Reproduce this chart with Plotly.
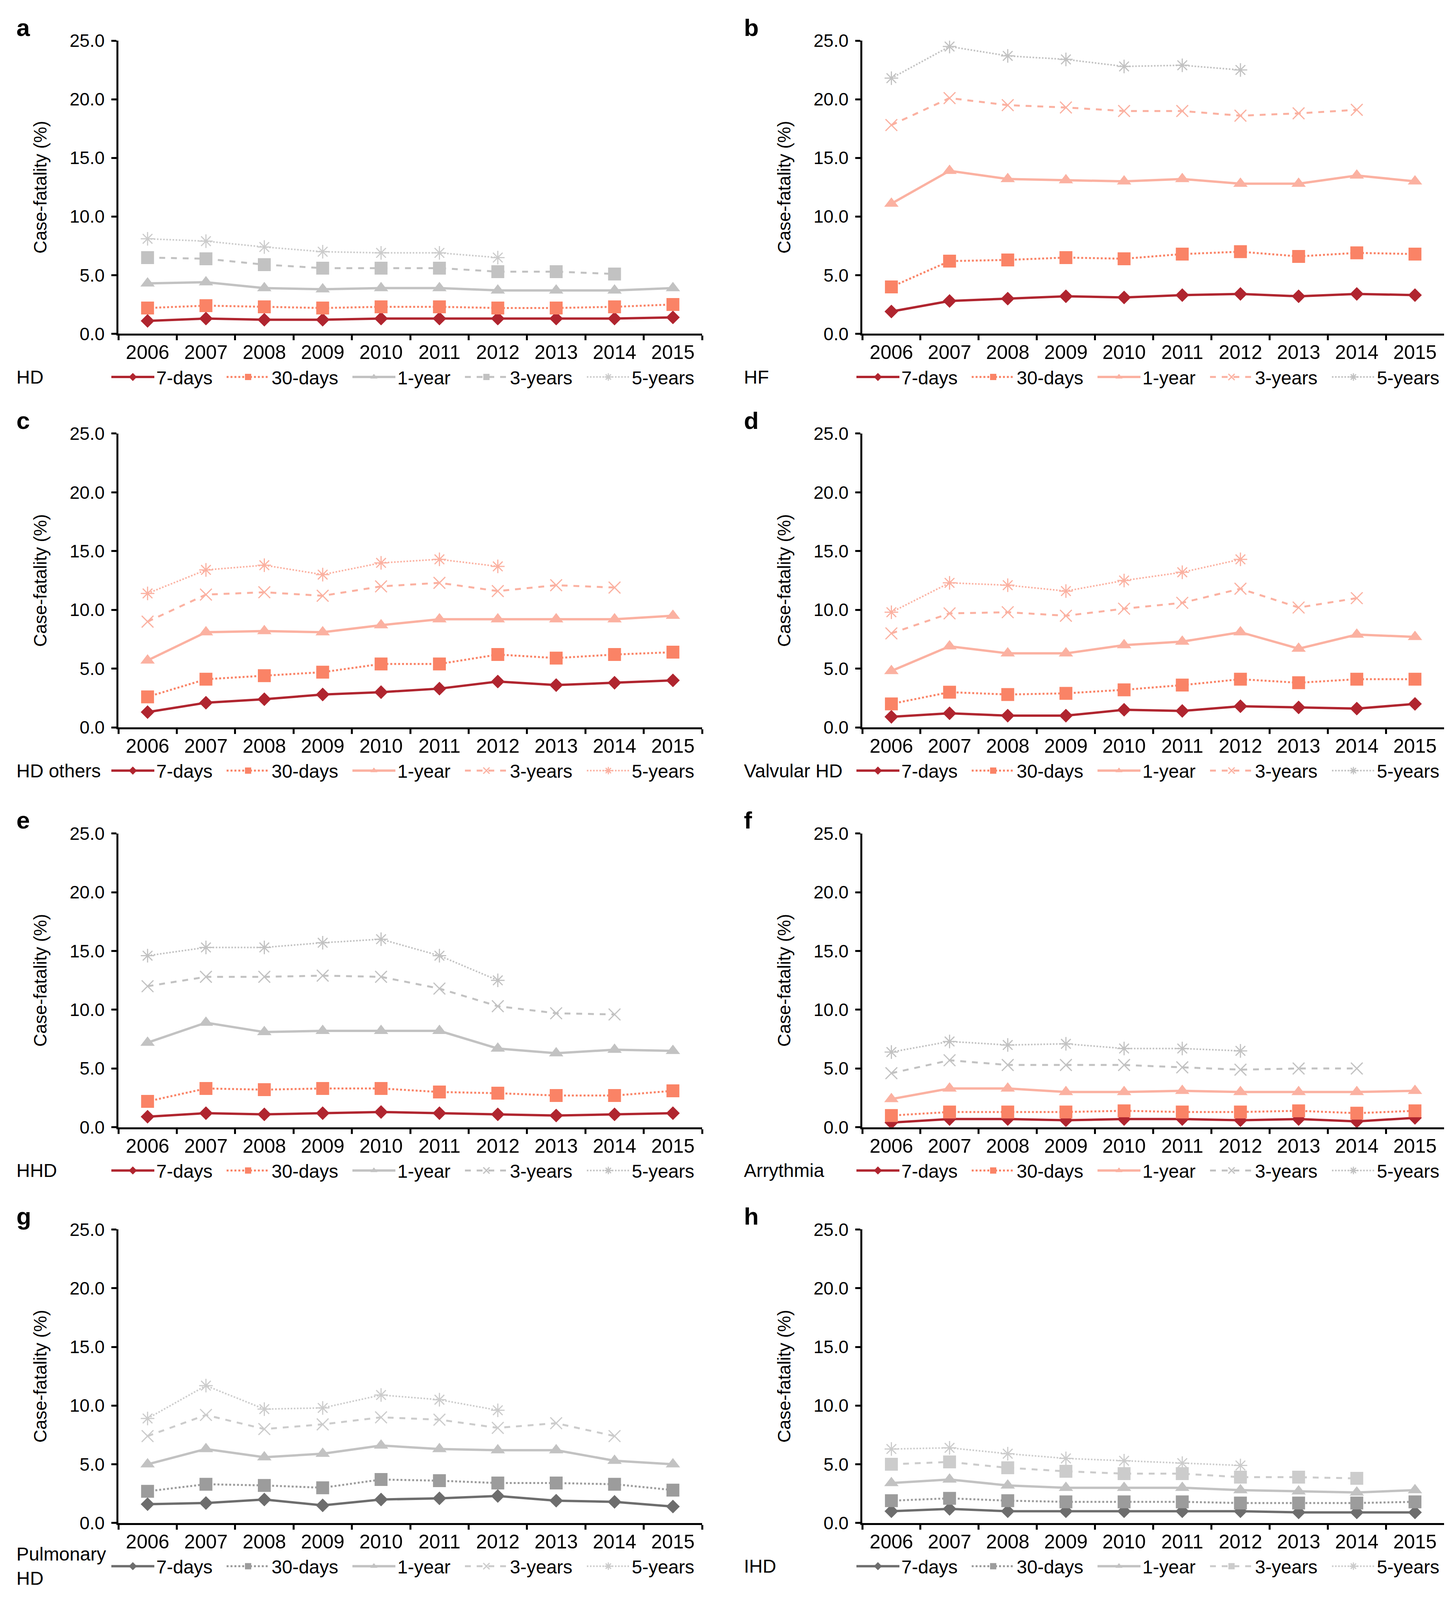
import plotly.graph_objects as go

# ---------------- data ----------------
years = ["2006", "2007", "2008", "2009", "2010", "2011", "2012", "2013", "2014", "2015"]
series_names = ["7-days", "30-days", "1-year", "3-years", "5-years"]
panel_letters = ["a", "b", "c", "d", "e", "f", "g", "h"]
panel_names = ["HD", "HF", "HD others", "Valvular HD", "HHD", "Arrythmia", "Pulmonary<br>HD", "IHD"]
y_ticks = [0, 5, 10, 15, 20, 25]

# a: HD
hd_7d = [1.1, 1.3, 1.2, 1.2, 1.3, 1.3, 1.3, 1.3, 1.3, 1.4]
hd_30d = [2.2, 2.4, 2.3, 2.2, 2.3, 2.3, 2.2, 2.2, 2.3, 2.5]
hd_1y = [4.3, 4.4, 3.9, 3.8, 3.9, 3.9, 3.7, 3.7, 3.7, 3.9]
hd_3y = [6.5, 6.4, 5.9, 5.6, 5.6, 5.6, 5.3, 5.3, 5.1]
hd_5y = [8.1, 7.9, 7.4, 7.0, 6.9, 6.9, 6.5]
# b: HF
hf_7d = [1.9, 2.8, 3.0, 3.2, 3.1, 3.3, 3.4, 3.2, 3.4, 3.3]
hf_30d = [4.0, 6.2, 6.3, 6.5, 6.4, 6.8, 7.0, 6.6, 6.9, 6.8]
hf_1y = [11.1, 13.9, 13.2, 13.1, 13.0, 13.2, 12.8, 12.8, 13.5, 13.0]
hf_3y = [17.8, 20.1, 19.5, 19.3, 19.0, 19.0, 18.6, 18.8, 19.1]
hf_5y = [21.8, 24.5, 23.7, 23.4, 22.8, 22.9, 22.5]
# c: HD others
hdo_7d = [1.3, 2.1, 2.4, 2.8, 3.0, 3.3, 3.9, 3.6, 3.8, 4.0]
hdo_30d = [2.6, 4.1, 4.4, 4.7, 5.4, 5.4, 6.2, 5.9, 6.2, 6.4]
hdo_1y = [5.7, 8.1, 8.2, 8.1, 8.7, 9.2, 9.2, 9.2, 9.2, 9.5]
hdo_3y = [9.0, 11.3, 11.5, 11.2, 12.0, 12.3, 11.6, 12.1, 11.9]
hdo_5y = [11.4, 13.4, 13.8, 13.0, 14.0, 14.3, 13.7]
# d: Valvular HD
vhd_7d = [0.9, 1.2, 1.0, 1.0, 1.5, 1.4, 1.8, 1.7, 1.6, 2.0]
vhd_30d = [2.0, 3.0, 2.8, 2.9, 3.2, 3.6, 4.1, 3.8, 4.1, 4.1]
vhd_1y = [4.8, 6.9, 6.3, 6.3, 7.0, 7.3, 8.1, 6.7, 7.9, 7.7]
vhd_3y = [8.0, 9.7, 9.8, 9.5, 10.1, 10.6, 11.8, 10.2, 11.0]
vhd_5y = [9.8, 12.3, 12.1, 11.6, 12.5, 13.2, 14.3]
# e: HHD
hhd_7d = [0.9, 1.2, 1.1, 1.2, 1.3, 1.2, 1.1, 1.0, 1.1, 1.2]
hhd_30d = [2.2, 3.3, 3.2, 3.3, 3.3, 3.0, 2.9, 2.7, 2.7, 3.1]
hhd_1y = [7.2, 8.9, 8.1, 8.2, 8.2, 8.2, 6.7, 6.3, 6.6, 6.5]
hhd_3y = [12.0, 12.8, 12.8, 12.9, 12.8, 11.8, 10.3, 9.7, 9.6]
hhd_5y = [14.6, 15.3, 15.3, 15.7, 16.0, 14.6, 12.5]
# f: Arrythmia
arr_7d = [0.4, 0.7, 0.7, 0.6, 0.7, 0.7, 0.6, 0.7, 0.5, 0.8]
arr_30d = [1.0, 1.3, 1.3, 1.3, 1.4, 1.3, 1.3, 1.4, 1.2, 1.4]
arr_1y = [2.4, 3.3, 3.3, 3.0, 3.0, 3.1, 3.0, 3.0, 3.0, 3.1]
arr_3y = [4.6, 5.7, 5.3, 5.3, 5.3, 5.1, 4.9, 5.0, 5.0]
arr_5y = [6.4, 7.3, 7.0, 7.1, 6.7, 6.7, 6.5]
# g: Pulmonary HD
phd_7d = [1.6, 1.7, 2.0, 1.5, 2.0, 2.1, 2.3, 1.9, 1.8, 1.4]
phd_30d = [2.7, 3.3, 3.2, 3.0, 3.7, 3.6, 3.4, 3.4, 3.3, 2.8]
phd_1y = [5.0, 6.3, 5.6, 5.9, 6.6, 6.3, 6.2, 6.2, 5.3, 5.0]
phd_3y = [7.4, 9.2, 8.0, 8.4, 9.0, 8.8, 8.1, 8.5, 7.4]
phd_5y = [8.9, 11.7, 9.7, 9.8, 10.9, 10.5, 9.6]
# h: IHD
ihd_7d = [1.0, 1.2, 1.0, 1.0, 1.0, 1.0, 1.0, 0.9, 0.9, 0.9]
ihd_30d = [1.9, 2.1, 1.9, 1.8, 1.8, 1.8, 1.7, 1.7, 1.7, 1.8]
ihd_1y = [3.4, 3.7, 3.2, 3.0, 3.0, 3.0, 2.8, 2.7, 2.6, 2.8]
ihd_3y = [5.0, 5.2, 4.7, 4.4, 4.2, 4.2, 3.9, 3.9, 3.8]
ihd_5y = [6.3, 6.4, 5.9, 5.5, 5.3, 5.1, 4.9]

panel_data = [
    [hd_7d, hd_30d, hd_1y, hd_3y, hd_5y],
    [hf_7d, hf_30d, hf_1y, hf_3y, hf_5y],
    [hdo_7d, hdo_30d, hdo_1y, hdo_3y, hdo_5y],
    [vhd_7d, vhd_30d, vhd_1y, vhd_3y, vhd_5y],
    [hhd_7d, hhd_30d, hhd_1y, hhd_3y, hhd_5y],
    [arr_7d, arr_30d, arr_1y, arr_3y, arr_5y],
    [phd_7d, phd_30d, phd_1y, phd_3y, phd_5y],
    [ihd_7d, ihd_30d, ihd_1y, ihd_3y, ihd_5y],
]

# ---------------- styles ----------------
RED = "#B0252F"
SALMON = "#FA8366"
LSALMON = "#FBB1A1"
GREY = "#C2C2C2"
LGREY = "#CCCCCC"
DGREY = "#6D6D6D"
MGREY = "#9C9C9C"

panel_colors = [
    [RED, SALMON, GREY, GREY, LGREY],
    [RED, SALMON, LSALMON, LSALMON, GREY],
    [RED, SALMON, LSALMON, LSALMON, LSALMON],
    [RED, SALMON, LSALMON, LSALMON, LSALMON],
    [RED, SALMON, GREY, GREY, GREY],
    [RED, SALMON, LSALMON, GREY, GREY],
    [DGREY, MGREY, GREY, LGREY, LGREY],
    [DGREY, MGREY, GREY, LGREY, LGREY],
]
# legend colour differs from the plotted colour in panel d (5-years)
legend_override = {(3, 4): GREY}

SYM_X = "x-thin-open"
SYM_AST = "asterisk-open"
panel_symbols = [
    ["diamond", "square", "triangle-up", "square", SYM_AST],
    ["diamond", "square", "triangle-up", SYM_X, SYM_AST],
    ["diamond", "square", "triangle-up", SYM_X, SYM_AST],
    ["diamond", "square", "triangle-up", SYM_X, SYM_AST],
    ["diamond", "square", "triangle-up", SYM_X, SYM_AST],
    ["diamond", "square", "triangle-up", SYM_X, SYM_AST],
    ["diamond", "square", "triangle-up", SYM_X, SYM_AST],
    ["diamond", "square", "triangle-up", "square", SYM_AST],
]
series_dash = ["solid", "dot", "solid", "dash", "dot"]
series_width = [6, 5, 6, 5, 4]
legend_entry_width = [170, 197, 163, 187, 170]
symbol_size = {"diamond": 27, "square": 33, "triangle-up": 32, SYM_X: 30, SYM_AST: 29}

# reference geometry (pixels of the 3724 x 4559 reference), converted to fractions
RW, RH = 3724, 4559
FONT = "Liberation Sans, Arial, Helvetica, sans-serif"

col_x = [(303, 1797), (2207, 3696)]
row_y = [(88, 934), (1222, 2070), (2376, 3224), (3519, 4366)]
col_left = [40, 1902]
legend_start = [280, 2187]

fig = go.Figure()
layout = dict(
    autosize=True, margin=dict(l=0, r=0, t=0, b=0, pad=0),
    paper_bgcolor="white", plot_bgcolor="white",
    font=dict(family=FONT, size=46, color="black"),
    annotations=[], showlegend=True,
)


def make_marker(sym, color):
    open_sym = sym.endswith("-open")
    return dict(
        symbol=sym, size=symbol_size[sym], color=color,
        line=dict(width=3 if open_sym else 0, color=color),
    )


for p in range(8):
    r, c = divmod(p, 2)
    n = p + 1
    xa = "x" if n == 1 else f"x{n}"
    ya = "y" if n == 1 else f"y{n}"
    lg = "legend" if n == 1 else f"legend{n}"
    x0, x1 = col_x[c]
    y0, y1 = row_y[r]

    for s in range(5):
        vals = panel_data[p][s]
        col = panel_colors[p][s]
        sym = panel_symbols[p][s]
        override = legend_override.get((p, s))
        fig.add_trace(go.Scatter(
            x=years[:len(vals)], y=vals, xaxis=xa, yaxis=ya,
            mode="lines+markers", name=series_names[s],
            line=dict(color=col, width=series_width[s], dash=series_dash[s]),
            marker=make_marker(sym, col),
            legend=lg, showlegend=override is None,
            legendwidth=legend_entry_width[s],
        ))
        if override is not None:
            fig.add_trace(go.Scatter(
                x=[None], y=[None], xaxis=xa, yaxis=ya,
                mode="lines+markers", name=series_names[s],
                line=dict(color=override, width=series_width[s], dash=series_dash[s]),
                marker=make_marker(sym, override),
                legend=lg, showlegend=True,
                legendwidth=legend_entry_width[s],
            ))

    layout["xaxis" if n == 1 else f"xaxis{n}"] = dict(
        domain=[x0 / RW, x1 / RW], anchor=ya, type="category",
        categoryorder="array", categoryarray=years, range=[-0.5, 9.5],
        showline=True, linecolor="black", linewidth=5,
        ticks="outside", tickson="boundaries", ticklen=12, tickwidth=5, tickcolor="black",
        showgrid=False, zeroline=False,
        tickfont=dict(size=50, color="black"),
        fixedrange=True,
    )
    layout["yaxis" if n == 1 else f"yaxis{n}"] = dict(
        domain=[1 - y1 / RH, 1 - y0 / RH], anchor=xa, range=[0, 25],
        tickvals=y_ticks, tickformat=".1f",
        showline=True, linecolor="black", linewidth=5,
        ticks="outside", ticklen=13, tickwidth=5, tickcolor="black",
        showgrid=False, zeroline=False, tickfont=dict(size=46, color="black"),
        ticklabelstandoff=8, fixedrange=True,
    )
    leg_y = 1 - (y1 + 125) / RH
    layout[lg] = dict(
        orientation="h", x=legend_start[c] / RW, y=leg_y,
        xanchor="left", yanchor="middle", font=dict(size=48, color="black"),
        itemwidth=110, bgcolor="rgba(0,0,0,0)", traceorder="normal",
        itemclick=False, itemdoubleclick=False,
    )
    # panel letter
    layout["annotations"].append(dict(
        text=f"<b>{panel_letters[p]}</b>", xref="paper", yref="paper",
        x=(col_left[c]) / RW, y=1 - (y0 - 38) / RH, xanchor="left", yanchor="middle",
        showarrow=False, font=dict(size=62, color="black"),
    ))
    # panel name (legend heading)
    layout["annotations"].append(dict(
        text=panel_names[p], xref="paper", yref="paper",
        x=col_left[c] / RW, y=leg_y, xanchor="left", yanchor="middle", align="left",
        showarrow=False, font=dict(size=48, color="black"),
    ))
    # y-axis title
    layout["annotations"].append(dict(
        text="Case-fatality (%)", xref="paper", yref="paper",
        x=(x0 - 200) / RW, y=1 - (y0 + y1) / 2 / RH, xanchor="center", yanchor="middle",
        textangle=-90, showarrow=False, font=dict(size=46, color="black"),
    ))

fig.update_layout(**layout)
fig.write_html(
    "out.html",
    default_width="100vw",
    default_height="100vh",
    config={"displayModeBar": False},
    post_script="document.body.style.margin='0';document.body.style.overflow='hidden';",
)
